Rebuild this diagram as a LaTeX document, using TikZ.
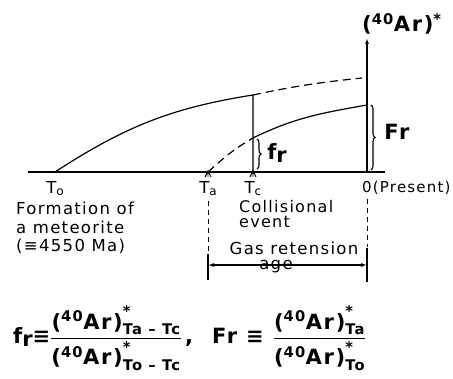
\documentclass[tikz,border=0pt]{standalone}
\usepackage{amsmath}
\usepackage{fontspec}
\setmainfont[LetterSpace=8]{DejaVu Sans}
\usetikzlibrary{arrows.meta,decorations.pathreplacing}
\newcommand{\arsub}[1]{\text{(\textsuperscript{40}Ar)}^{\text{*}}_{\text{#1}}}
\newcommand{\tlow}[1]{T\raisebox{-2.5pt}{\fontsize{12}{12}\selectfont #1}}

\begin{document}
\begin{tikzpicture}[x=1pt,y=1pt,
  axisline/.style={line width=1.8pt},
  curve/.style={line width=1.2pt},
  dashcurve/.style={line width=1.2pt,dash pattern=on 8pt off 5pt},
  guide/.style={line width=1pt,dash pattern=on 5pt off 4pt},
  brc/.style={decorate,decoration={brace,amplitude=4pt},line width=1.1pt},
  lbl/.style={font=\fontsize{16.5}{18.5}\selectfont,inner sep=1pt},
  big/.style={font=\fontsize{21}{24}\selectfont\bfseries,inner sep=1pt},
  formula/.style={font=\fontsize{21}{26}\selectfont\bfseries,inner sep=1pt},
  arr/.style={{Latex[length=6pt,width=4pt]}-{Latex[length=6pt,width=4pt]},line width=1.1pt},
]
\useasboundingbox (0,0) rectangle (453,379);
% time axis
\coordinate (left) at (28,207);
\coordinate (right) at (385,207);
\coordinate (T0) at (55,207);
\coordinate (Ta) at (208,207);
\coordinate (Tc) at (253,207);
\coordinate (O) at (367,207);
\coordinate (top) at (367,341);
\draw[axisline] (left) -- (right);
\draw[axisline,-{Latex[length=6pt,width=4pt]}] (O) -- (top);
\foreach \p in {Ta,Tc}
  \draw[line width=0.9pt] (\p) ++(-3,-5) -- ++(3,6) -- ++(3,-6) (\p) -- ++(0,-5);
% growth curves
\coordinate (c1) at (253,284);
\coordinate (c1end) at (362,301);
\coordinate (c2) at (253,241);
\coordinate (c2end) at (367,274);
\draw[curve] (T0) to[out=33,in=189] (c1) -- (Tc);
\draw[dashcurve] (c1) to[out=12,in=186] (c1end);
\draw[dashcurve] (Ta) to[out=42,in=210] (c2);
\draw[curve] (c2) to[out=26,in=190] (c2end);
% braces
\draw[brc] (371,274) -- (371,209);
\draw[brc] (257,240) -- (257,210);
\node[big] (Fr) at (397,247) {Fr};
\node[big] (fr) at (277,226) {f\raisebox{-3pt}{r}};
\node[big,anchor=west] (ar) at (361,355) {(\textsuperscript{40}Ar)\textsuperscript{*}};
% axis labels
\node[lbl,anchor=north] (lT0) at (55,199) {\tlow{o}};
\node[lbl,anchor=north] (lTa) at (208,199) {\tlow{a}};
\node[lbl,anchor=north] (lTc) at (253,199) {\tlow{c}};
\node[lbl,anchor=north west,font=\fontsize{15}{17}\selectfont] (lO) at (361,199) {0(Present)};
\node[lbl,anchor=north west,align=left] (form) at (15,178)
  {Formation of\\a meteorite\\(≡4550 Ma)};
\node[lbl,anchor=north west,align=left,font=\fontsize{16}{15}\selectfont] (coll) at (238,180)
  {Collisional\\event};
% gas retention age
\draw[guide] (208,178) -- (208,127);
\draw[guide] (367,180) -- (367,132);
\draw[line width=1.1pt] (208,125) -- (208,99);
\draw[line width=1.1pt] (367,131) -- (367,97);
\coordinate (gL) at (208,114);
\coordinate (gR) at (367,114);
\draw[arr] (gL) -- (gR);
\node[lbl] (gas) at (294,131) {Gas retension};
\node[lbl] (age) at (276,112) {age};
% definitions
\node[formula,anchor=west] (frdef) at (12,41)
  {f\raisebox{-3pt}{r}≡$\dfrac{\arsub{Ta – Tc}}{\arsub{To – Tc}}$\,,};
\node[formula,anchor=west] (Frdef) at (211,41)
  {Fr ≡ $\dfrac{\arsub{Ta}}{\arsub{To}}$};
\end{tikzpicture}
\end{document}
